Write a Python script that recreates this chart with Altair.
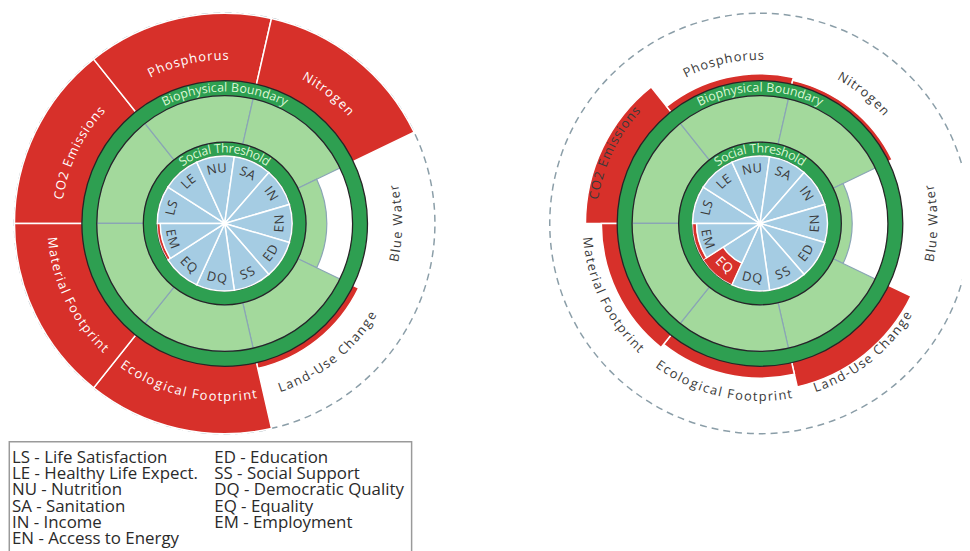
import math
import pandas as pd
import altair as alt

# ---------------- data ----------------
bio_labels = ["CO2 Emissions", "Phosphorus", "Nitrogen", "Blue Water",
              "Land-Use Change", "Ecological Footprint", "Material Footprint"]
# outer radius reached by each biophysical wedge (chart units)
bio_left = [212, 212, 212, 103, 150, 212, 212]
bio_right = [176, 151, 148, 93, 169, 156, 160]

soc_codes = ["LS", "LE", "NU", "SA", "IN", "EN", "ED", "SS", "DQ", "EQ", "EM"]
# radius reached by each social wedge (chart units)
soc_left = [68, 68, 68, 68, 68, 68, 68, 68, 68, 68, 65]
soc_right = [68, 68, 68, 68, 68, 68, 68, 68, 68, 44, 64]

legend_col1 = ["LS - Life Satisfaction", "LE - Healthy Life Expect.", "NU - Nutrition",
               "SA - Sanitation", "IN - Income", "EN - Access to Energy"]
legend_col2 = ["ED - Education", "SS - Social Support", "DQ - Democratic Quality",
               "EQ - Equality", "EM - Employment"]

# ---------------- geometry / style ----------------
SOC_R, SOC_RING = 68, 82          # social threshold ring
BIO_IN, BIO_OUT = 129, 144        # biophysical boundary ring
CAP = 212                         # outer limit (dashed circle)
START = 270                       # first wedge starts at 9 o'clock

RED = "#d7302a"
LGREEN = "#a3d99c"
DGREEN = "#2e9f51"
BLUE = "#a5cce3"
DARK = "#3a3a3a"
RINGTXT = "#dcf7d5"
FONT = "Open Sans"

W, H = 962, 543
CENTERS = [(218.5, 215), (758.3, 215)]

TH = alt.Scale(domain=[0, 360], range=[0, 2 * math.pi], nice=False, zero=True)
RS = alt.Scale(type="linear", domain=[0, 250], range=[0, 250], nice=False, zero=True)

CW = {" ": .26, "-": .32, "i": .24, "l": .24, "j": .24, "I": .28, "t": .33, "r": .39,
      "f": .32, "s": .44, "c": .48, "e": .56, "a": .56, "o": .60, "y": .50, "v": .50,
      "x": .52, "z": .46, "k": .52, "m": .93, "w": .78, "g": .61, "B": .66, "C": .63,
      "E": .55, "L": .52, "M": .90, "N": .75, "O": .78, "S": .55, "T": .55, "U": .74,
      "W": .93, "F": .52, "D": .72, "P": .60, "A": .63, "Q": .78, "2": .57}


def is_flipped(tmid):
    tm = round(tmid % 360, 6)
    return 90 <= tm < 270


def curved(text, tmid, r, size, track, color):
    widths = [CW.get(c, .61) * size for c in text]
    total = sum(widths) + track * (len(text) - 1)
    tm = round(tmid % 360, 6)
    flip = is_flipped(tm)
    rows, cum = [], 0.0
    for c, w in zip(text, widths):
        off = cum + w / 2 - total / 2
        d = math.degrees(off / r)
        th = tm - d if flip else tm + d
        ang = (th - 180) if flip else th
        if c != " ":
            rows.append(dict(ch=c, th=th % 360, r=r, ang=ang % 360, col=color))
        cum += w + track
    return rows


def arc(df, cx, cy, **kw):
    return alt.Chart(df).mark_arc(**kw).encode(
        theta=alt.Theta("t0:Q", scale=TH, stack=None),
        theta2="t1:Q",
        radius=alt.Radius("r1:Q", scale=RS),
        radius2="r0:Q",
        x=alt.value(cx), y=alt.value(cy),
    )


def text(df, cx, cy, size):
    return alt.Chart(df).mark_text(font=FONT, fontSize=size, align="center",
                                   baseline="middle").encode(
        theta=alt.Theta("th:Q", scale=TH, stack=None),
        radius=alt.Radius("r:Q", scale=RS),
        text="ch:N",
        angle=alt.Angle("ang:Q", scale=None),
        color=alt.Color("col:N", scale=None),
        x=alt.value(cx), y=alt.value(cy),
    )


def doughnut(cx, cy, bio_vals, soc_vals):
    nb, ns = len(bio_labels), len(soc_codes)
    sb, ss = 360 / nb, 360 / ns
    bio = pd.DataFrame({"label": bio_labels, "v": bio_vals})
    bio["t0"] = [START + i * sb for i in range(nb)]
    bio["t1"] = bio["t0"] + sb
    soc = pd.DataFrame({"code": soc_codes, "v": soc_vals})
    soc["t0"] = [START + i * ss for i in range(ns)]
    soc["t1"] = soc["t0"] + ss

    layers = []
    circ = pd.DataFrame({"t0": [0], "t1": [360], "r0": [0], "r1": [CAP]})
    layers.append(arc(circ, cx, cy, fillOpacity=0, stroke="#8b9ea8",
                      strokeWidth=1.5, strokeDash=[7, 5]))

    over = bio[bio.v > BIO_OUT].copy()
    over["r0"] = BIO_IN
    over["r1"] = over.v.clip(upper=CAP)
    layers.append(arc(over, cx, cy, fill=RED, stroke="white", strokeWidth=1.5))

    inner = bio.copy()
    inner["r0"] = SOC_RING
    inner["r1"] = inner.v.clip(upper=BIO_IN)
    layers.append(arc(inner, cx, cy, fill=LGREEN, stroke="#8aa5b5", strokeWidth=1.2))

    rings = pd.DataFrame({"t0": [0, 0], "t1": [360, 360],
                          "r0": [SOC_R, BIO_IN], "r1": [SOC_RING, BIO_OUT]})
    layers.append(arc(rings, cx, cy, fill=DGREEN, stroke="#262626", strokeWidth=1.3))

    short = soc[soc.v < SOC_R].copy()
    short["r0"] = short.v
    short["r1"] = SOC_R
    layers.append(arc(short, cx, cy, fill=RED, stroke="white", strokeWidth=0.8))

    sw = soc.copy()
    sw["r0"] = 0
    sw["r1"] = sw.v.clip(upper=SOC_R)
    layers.append(arc(sw, cx, cy, fill=BLUE, stroke="white", strokeWidth=1.5))

    rows = []
    for _, rw in soc.iterrows():
        col = "white" if rw.v < 50 else DARK
        rows += curved(rw.code, (rw.t0 + rw.t1) / 2, 55.5, 13, 0.8, col)
    layers.append(text(pd.DataFrame(rows), cx, cy, 13))

    rows = curved("Social Threshold", 0, 75.5, 12.5, 0.1, RINGTXT)
    rows += curved("Biophysical Boundary", 0, 137, 12.5, 0.3, RINGTXT)
    layers.append(text(pd.DataFrame(rows), cx, cy, 12.5))

    rows = []
    for _, rw in bio.iterrows():
        col = "white" if rw.v >= 200 else DARK
        tm = (rw.t0 + rw.t1) / 2
        rr = 175 if is_flipped(tm) else 169
        rows += curved(rw.label, tm, rr, 13, 1.3, col)
    layers.append(text(pd.DataFrame(rows), cx, cy, 13))
    return layers


layers = []
for (cx, cy), bv, sv in zip(CENTERS, [bio_left, bio_right], [soc_left, soc_right]):
    layers += doughnut(cx, cy, bv, sv)

# legend box
box = alt.Chart(pd.DataFrame({"a": [0]})).mark_rect(
    fill="white", stroke="#9a9a9a", strokeWidth=1.5).encode(
    x=alt.value(1.3), x2=alt.value(407), y=alt.value(435), y2=alt.value(600))
layers.append(box)

leg = pd.DataFrame({
    "txt": legend_col1 + legend_col2,
    "col": [0] * len(legend_col1) + [1] * len(legend_col2),
    "row": list(range(len(legend_col1))) + list(range(len(legend_col2))),
})
legend = alt.Chart(leg).mark_text(font=FONT, fontSize=17, align="left",
                                  baseline="middle", color="#2a2a2a").encode(
    x=alt.X("col:Q", scale=alt.Scale(domain=[0, 1], range=[4, 208], nice=False, zero=False), axis=None),
    y=alt.Y("row:Q", scale=alt.Scale(domain=[0, 1], range=[451.5, 467.9], nice=False, zero=False), axis=None),
    text="txt:N",
)
layers.append(legend)

chart = alt.layer(*layers).properties(
    width=W, height=H, padding=0,
    autosize=alt.AutoSizeParams(type="none"),
).configure_view(stroke=None)

chart.save("out.html", embed_options={"renderer": "svg", "actions": False})
